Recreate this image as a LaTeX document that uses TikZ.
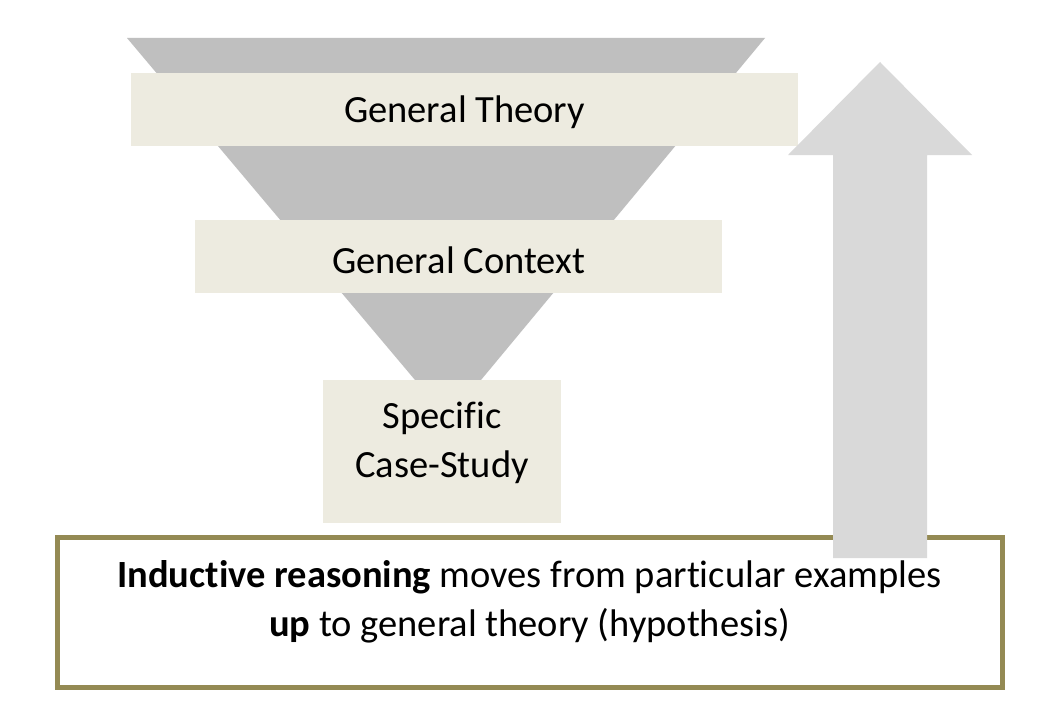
\documentclass[tikz,border=0pt]{standalone}
\usepackage{fontspec}
\setmainfont{Carlito}[Ligatures=NoCommon]
\begin{document}
\begin{tikzpicture}[x=1pt,y=-1pt,
  box/.style={fill=boxc,draw=none},
  lbl/.style={font=\fontsize{38.5}{49}\selectfont,align=center}]
\definecolor{boxc}{RGB}{237,235,224}
\definecolor{func}{RGB}{191,191,191}
\definecolor{arrc}{RGB}{217,217,217}
\definecolor{olive}{RGB}{148,138,84}
\useasboundingbox[fill=white] (0,0) rectangle (1047,709);
\fill[func] (127,38) -- (765,38) -- (481,380) -- (415,380) -- cycle;
\fill[box] (131,73) rectangle (798,146);
\node[lbl] (gt) at (464.5,112) {General Theory};
\fill[box] (195,220) rectangle (722,293);
\node[lbl] (gc) at (458.5,260) {General Context};
\fill[box] (323,380) rectangle (561,523);
\node[lbl] (sc) at (442,443) {Specific\\Case-Study};
\draw[olive,line width=5,fill=white] (57,537) rectangle (1002,687);
\node[lbl] (txt) at (529.5,602) {\textbf{Inductive reasoning} moves from particular examples\\\textbf{up} to general theory (hypothesis)};
\fill[arrc] (833,558) -- (833,155) -- (788,155) -- (880,62) -- (972,155) -- (927,155) -- (927,558) -- cycle;
\end{tikzpicture}
\end{document}
